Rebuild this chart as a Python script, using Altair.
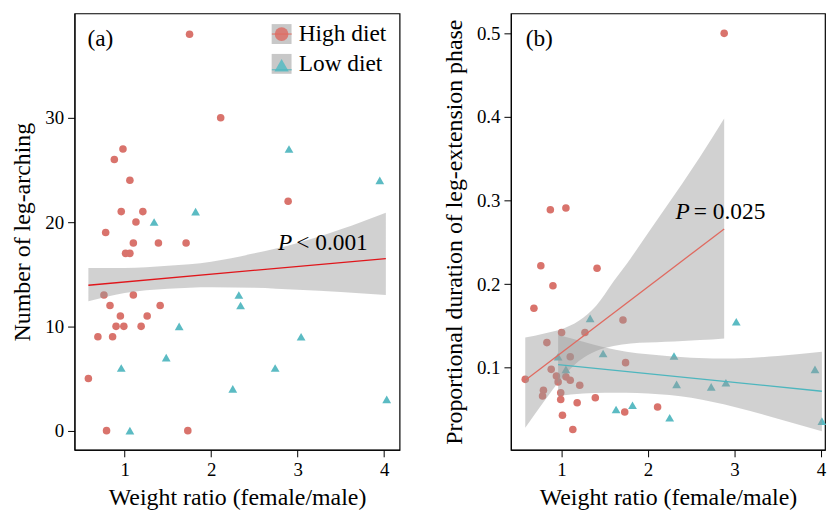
import altair as alt
import pandas as pd

# ---------------- data ----------------
# Panel (a): number of leg-arching
a_high_x = [1.75, 2.11, 0.98, 0.88, 1.06, 2.89, 0.96, 1.21, 1.13, 0.78, 1.10, 1.39, 1.71, 1.01, 1.06,
            0.76, 1.10, 0.83, 1.41, 0.95, 1.26, 0.90, 0.99, 1.19, 0.69, 0.86, 0.58, 0.79, 1.73]
a_high_y = [38, 30, 27, 26, 24, 22, 21, 21, 20, 19, 18, 18, 18, 17, 17,
            13, 13, 12, 12, 11, 11, 10, 10, 10, 9, 9, 5, 0, 0]
a_low_x = [2.90, 3.95, 1.82, 1.34, 2.32, 2.34, 1.63, 3.04, 1.48, 0.96, 2.74, 2.25, 4.03, 1.06]
a_low_y = [27, 24, 21, 20, 13, 12, 10, 9, 7, 6, 6, 4, 3, 0]

a_band_x = [0.58, 1.0, 1.5, 2.0, 2.5, 3.0, 3.5, 4.02]
a_band_lo = [12.4, 13.2, 13.6, 13.75, 13.7, 13.5, 13.3, 13.0]
a_band_hi = [15.6, 15.6, 15.8, 16.2, 17.0, 18.0, 19.3, 20.9]
a_fit_x = [0.58, 4.02]
a_fit_y = [13.94, 16.5]

# Panel (b): proportional duration of leg-extension phase
b_high_x = [2.88, 0.87, 1.05, 0.76, 1.41, 0.90, 0.68, 1.71, 1.00, 1.27, 0.83, 1.10, 1.74, 0.88, 0.94,
            1.05, 0.96, 1.10, 0.58, 1.21, 0.79, 0.78, 0.99, 0.99, 1.39, 1.18, 1.01, 1.13, 1.73, 2.11]
b_high_y = [0.500, 0.289, 0.291, 0.222, 0.219, 0.198, 0.171, 0.157, 0.142, 0.142, 0.130, 0.113, 0.106,
            0.098, 0.090, 0.089, 0.083, 0.085, 0.086, 0.079, 0.073, 0.066, 0.070, 0.062, 0.064, 0.058,
            0.043, 0.026, 0.047, 0.053]
b_low_x = [1.33, 3.02, 0.96, 1.48, 2.30, 1.05, 3.93, 2.33, 2.73, 2.90, 1.63, 1.82, 2.25, 4.01]
b_low_y = [0.159, 0.155, 0.113, 0.117, 0.114, 0.098, 0.098, 0.080, 0.077, 0.082, 0.050, 0.055, 0.040, 0.036]

b_hband_x = [0.58, 0.8, 1.0, 1.2, 1.4, 1.6, 1.8, 2.0, 2.2, 2.4, 2.6, 2.88]
b_hband_lo = [0.028, 0.060, 0.087, 0.108, 0.120, 0.126, 0.129, 0.130, 0.131, 0.132, 0.133, 0.135]
b_hband_hi = [0.136, 0.141, 0.146, 0.156, 0.174, 0.203, 0.231, 0.261, 0.291, 0.321, 0.352, 0.398]
b_hfit_x = [0.58, 2.88]
b_hfit_y = [0.085, 0.266]

b_lband_x = [0.96, 1.25, 1.5, 1.75, 2.0, 2.5, 3.0, 3.5, 4.01]
b_lband_lo = [0.066, 0.069, 0.070, 0.070, 0.069, 0.064, 0.053, 0.039, 0.024]
b_lband_hi = [0.139, 0.131, 0.124, 0.119, 0.116, 0.112, 0.111, 0.114, 0.119]
b_lfit_x = [0.96, 4.01]
b_lfit_y = [0.1036, 0.0718]

x_ticks = [1, 2, 3, 4]
a_y_ticks = [0, 10, 20, 30]
b_y_ticks = [0.1, 0.2, 0.3, 0.4, 0.5]
groups = ["High diet", "Low diet"]

# ---------------- styles ----------------
RED = "#D9736C"
TEAL = "#5BBBC3"
FIT_RED_A = "#E0161B"
FIT_RED_B = "#E06A60"
FIT_TEAL = "#4DB6BE"
BAND = "#9A9A9A"
BAND_OP = 0.45
FONT = "Liberation Serif"

W_A, W_B, H = 327, 316, 439


def pts(xs, ys):
    return pd.DataFrame({"x": xs, "y": ys})


def band(xs, lo, hi):
    return pd.DataFrame({"x": xs, "lo": lo, "hi": hi})


def panel(xdom, ydom, yticks, yfmt, ytitle, high, low, bands, fits):
    xs = alt.Scale(domain=xdom, nice=False, zero=False)
    ys = alt.Scale(domain=ydom, nice=False, zero=False)
    xax = alt.Axis(values=x_ticks, format="d", title="Weight ratio (female/male)")
    yax = alt.Axis(values=yticks, format=yfmt, title=ytitle)

    p_high = alt.Chart(pts(*high)).mark_point(
        shape="circle", filled=True, size=58, color=RED, opacity=1
    ).encode(x=alt.X("x:Q", scale=xs, axis=xax), y=alt.Y("y:Q", scale=ys, axis=yax))
    p_low = alt.Chart(pts(*low)).mark_point(
        shape="triangle-up", filled=True, size=78, color=TEAL, opacity=1
    ).encode(x=alt.X("x:Q", scale=xs), y=alt.Y("y:Q", scale=ys))

    layers = [p_high, p_low]
    for b in bands:
        layers.append(
            alt.Chart(band(*b)).mark_area(color=BAND, opacity=BAND_OP, interpolate="monotone").encode(
                x=alt.X("x:Q", scale=xs), y=alt.Y("lo:Q", scale=ys), y2="hi:Q"
            )
        )
    for fx, fy, col in fits:
        layers.append(
            alt.Chart(pts(fx, fy)).mark_line(color=col, strokeWidth=1.3).encode(
                x=alt.X("x:Q", scale=xs), y=alt.Y("y:Q", scale=ys)
            )
        )
    return layers


one = pd.DataFrame({"k": [0]})
txt = dict(font=FONT, fontSize=23.5, color="black", baseline="middle")

# ---------------- panel (a) ----------------
la = panel(
    [0.42, 4.179], [-1.84, 40], a_y_ticks, "d", "Number of leg-arching",
    (a_high_x, a_high_y), (a_low_x, a_low_y),
    [(a_band_x, a_band_lo, a_band_hi)],
    [(a_fit_x, a_fit_y, FIT_RED_A)],
)
la.append(alt.Chart(one).mark_text(text="(a)", align="center", **txt).encode(
    x=alt.value(26), y=alt.value(26)))
la.append(alt.Chart(one).mark_text(text="P", align="right", fontStyle="italic", **txt).encode(
    x=alt.value(219), y=alt.value(231)))
la.append(alt.Chart(one).mark_text(text="< 0.001", align="left", **txt).encode(
    x=alt.value(223), y=alt.value(231)))

# manual legend
leg_y = [20.7, 50.7]
for i, (g, shp, col, sz) in enumerate([(groups[0], "circle", RED, 190), (groups[1], "triangle-up", TEAL, 210)]):
    la.append(alt.Chart(one).mark_point(shape="square", filled=True, size=400, color="#C8C8C8", opacity=1).encode(
        x=alt.value(208.3), y=alt.value(leg_y[i])))
    la.append(alt.Chart(one).mark_point(shape=shp, filled=True, size=sz, color=col, opacity=0.9).encode(
        x=alt.value(208.3), y=alt.value(leg_y[i] + (1.5 if i else 0))))
    la.append(alt.Chart(one).mark_rule(color=FIT_RED_B if i == 0 else FIT_TEAL, strokeWidth=1).encode(
        x=alt.value(198.5), x2=alt.value(218.5), y=alt.value(leg_y[i] + (6 if i else 0))))
    la.append(alt.Chart(one).mark_text(text=g, align="left", **txt).encode(
        x=alt.value(225.5), y=alt.value(leg_y[i])))

chart_a = alt.layer(*la).properties(width=W_A, height=H)

# ---------------- panel (b) ----------------
lb = panel(
    [0.414, 4.046], [0.0017, 0.5238], b_y_ticks, ".1f", "Proportional duration of leg-extension phase",
    (b_high_x, b_high_y), (b_low_x, b_low_y),
    [(b_hband_x, b_hband_lo, b_hband_hi), (b_lband_x, b_lband_lo, b_lband_hi)],
    [(b_hfit_x, b_hfit_y, FIT_RED_B), (b_lfit_x, b_lfit_y, FIT_TEAL)],
)
lb.append(alt.Chart(one).mark_text(text="(b)", align="center", **txt).encode(
    x=alt.value(28.5), y=alt.value(26)))
lb.append(alt.Chart(one).mark_text(text="P", align="right", fontStyle="italic", **txt).encode(
    x=alt.value(180), y=alt.value(200)))
lb.append(alt.Chart(one).mark_text(text="= 0.025", align="left", **txt).encode(
    x=alt.value(184), y=alt.value(200)))

chart_b = alt.layer(*lb).properties(width=W_B, height=H)

chart = alt.hconcat(chart_a, chart_b, spacing=41).properties(
    padding={"left": 10, "top": 11, "right": 0, "bottom": 0}
).configure_view(stroke="black", strokeWidth=1.2).configure_axis(
    grid=False, domainColor="black", domainWidth=1, tickColor="black", tickSize=7, tickWidth=1,
    labelFont=FONT, labelFontSize=19, labelColor="black", labelPadding=4,
    titleFont=FONT, titleFontSize=24, titleFontWeight="normal", titleColor="black",
).configure_axisY(titlePadding=10).configure_axisX(titlePadding=6)

chart.save("out.html", embed_options={"renderer": "svg", "actions": False})
